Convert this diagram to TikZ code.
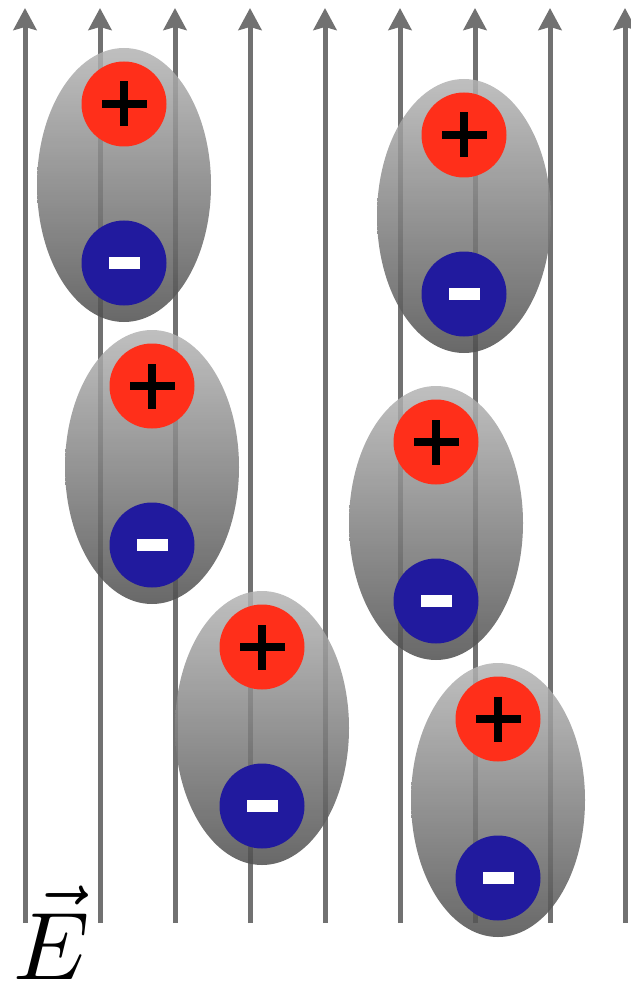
\documentclass[tikz,border=0pt]{standalone}
\usetikzlibrary{arrows.meta,shapes.geometric}
\definecolor{fieldgray}{HTML}{717171}
\definecolor{poscol}{HTML}{FF2F1A}
\definecolor{negcol}{HTML}{211A9E}
\definecolor{moltop}{HTML}{B4B4B4}
\definecolor{molbot}{HTML}{4E4E4E}
\tikzset{
  fieldline/.style={draw=fieldgray, line width=5pt,
    -{Stealth[length=22pt,width=23pt,inset=3pt]}},
  molecule/.style={ellipse, minimum width=174pt, minimum height=274pt,
    inner sep=0pt, top color=moltop, bottom color=molbot, fill opacity=0.85},
  poscharge/.style={circle, fill=poscol, minimum size=85pt, inner sep=0pt},
  negcharge/.style={circle, fill=negcol, minimum size=85pt, inner sep=0pt},
}
% one polar molecule: gray body with a + charge on top and a - charge below
\newcommand{\dipole}[3]{%
  \node[molecule] (#1) at (#2,#3) {};
  \node[poscharge] (#1p) at (#2,#3-81) {};
  \node[negcharge] (#1n) at (#2,#3+78) {};
  \fill[black] ([xshift=-22.5pt,yshift=-4pt]#1p.center) rectangle ([xshift=22.5pt,yshift=4pt]#1p.center);
  \fill[black] ([xshift=-4pt,yshift=-22.5pt]#1p.center) rectangle ([xshift=4pt,yshift=22.5pt]#1p.center);
  \fill[white] ([xshift=-15.5pt,yshift=-6pt]#1n.center) rectangle ([xshift=15.5pt,yshift=6pt]#1n.center);
}
\begin{document}
\begin{tikzpicture}[x=1pt,y=-1pt]
  \useasboundingbox (0,0) rectangle (630,992);
  % uniform field lines pointing upward
  \foreach \i in {0,...,8} {
    \coordinate (b\i) at (25+75*\i,923);
    \coordinate (t\i) at (25+75*\i,8);
    \draw[fieldline] (b\i) -- (t\i);
  }
  % polarized molecules
  \dipole{m1}{124}{185}
  \dipole{m2}{464}{216}
  \dipole{m3}{152}{467}
  \dipole{m4}{436}{523}
  \dipole{m5}{262}{728}
  \dipole{m6}{498}{800}
  % field label
  \node[anchor=base west, inner sep=0pt, scale=9.6] (E) at (12,979) {$\vec{E}$};
\end{tikzpicture}
\end{document}
